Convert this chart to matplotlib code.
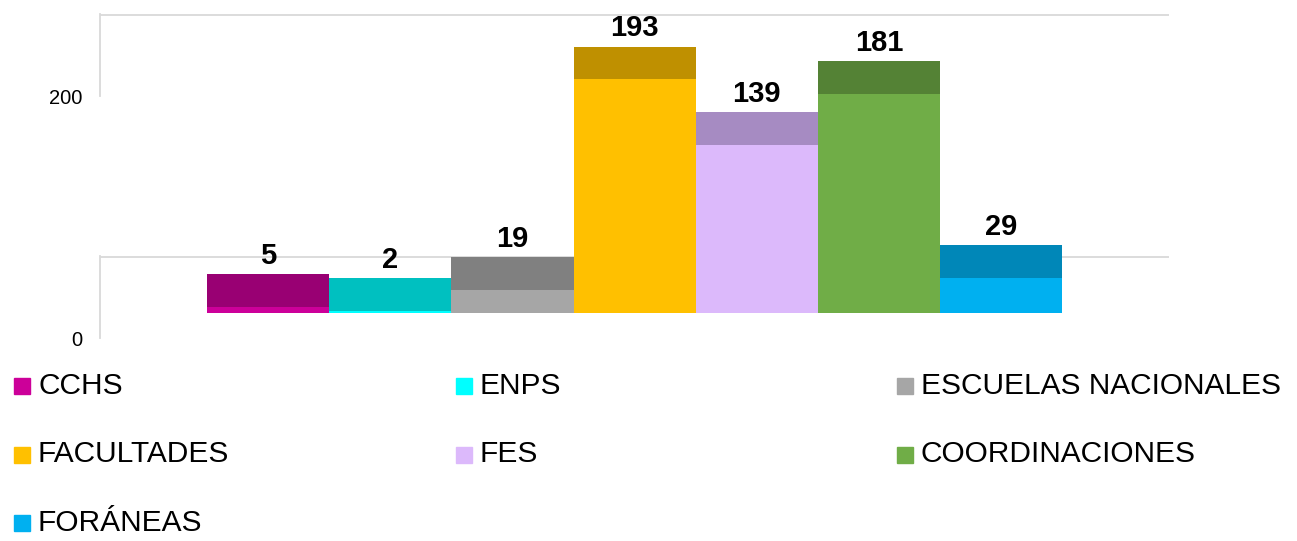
import matplotlib.pyplot as plt
from matplotlib.patches import Rectangle

categories = ['CCHS', 'ENPS', 'ESCUELAS NACIONALES', 'FACULTADES', 'FES',
              'COORDINACIONES', 'FORÁNEAS']
values = [5, 2, 19, 193, 139, 181, 29]
front_colors = ['#CC0099', '#00FFFF', '#A6A6A6', '#FFC000', '#DCB9FB', '#70AD47', '#00B0F0']
top_colors = ['#990073', '#00C0C0', '#808080', '#BF9000', '#A68BC2', '#548235', '#0087B8']
yticks = [0, 200]

plt.rcParams['font.family'] = ['Liberation Sans', 'DejaVu Sans']

W, H = 1297, 541
fig = plt.figure(figsize=(W / 100, H / 100), dpi=100)
ax = fig.add_axes([100 / W, (H - 340) / H, 1069 / W, 326 / H])

#Fake 3D look: a darker "top face" on each bar, back wall shifted up
depth = 27
back = 46
tick_shift = -21
grid_col = '#D9D9D9'

x = list(range(len(values)))
ax.bar(x, values, width=1.0, color=front_colors, zorder=3)
ax.bar(x, [depth] * len(values), bottom=values, width=1.0, color=top_colors, zorder=3)

xmin, xmax = -1.375, 7.373
for v in yticks:
    ax.axhline(v + back, color=grid_col, lw=1.3, zorder=1)
    ax.plot([xmin, xmin], [v + back + 1, v + tick_shift], color=grid_col, lw=1.3,
            zorder=1, clip_on=False)

for i, v in enumerate(values):
    ax.annotate(str(v), (i, v + depth), xytext=(0, 7.5), textcoords='offset points',
                ha='center', va='baseline', fontsize=21, fontweight='bold', zorder=4)

ax.set_xlim(xmin, xmax)
ax.set_ylim(-22.3, 247.1)
ax.set_xticks([])
ax.set_yticks([v + tick_shift for v in yticks], labels=[str(v) for v in yticks])
ax.tick_params(axis='y', length=0, pad=13, labelsize=14.5)
for s in ax.spines.values():
    s.set_visible(False)

#Legend laid out by hand, 3 columns
col_x = [14, 456, 897]
row_base = [394, 462.5, 531]
for k, (name, c) in enumerate(zip(categories, front_colors)):
    px = col_x[k % 3]
    py = row_base[k // 3]
    fig.patches.append(Rectangle((px / W, 1 - py / H), 16 / W, 16 / H,
                                 transform=fig.transFigure, color=c, figure=fig))
    fig.text((px + 24) / W, 1 - py / H, name, ha='left', va='baseline', fontsize=21.5)

fig.savefig('out.png', dpi=100)
